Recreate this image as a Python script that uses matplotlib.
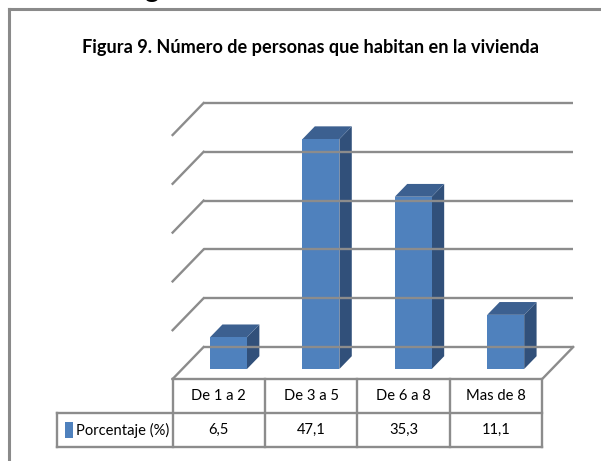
import matplotlib.pyplot as plt
from matplotlib.patches import Polygon
from matplotlib import font_manager as fm

categories = ['De 1 a 2', 'De 3 a 5', 'De 6 a 8', 'Mas de 8']
values = [6.5, 47.1, 35.3, 11.1]
value_labels = ['6,5', '47,1', '35,3', '11,1']
series_name = 'Porcentaje (%)'
grid_values = [0, 10, 20, 30, 40, 50]
title = 'Figura 9. Número de personas que habitan en la vivienda'

# layout (pixels of the 601x461 picture)
W, H = 601, 461
px_cat = 92.4      # pixels between categories
px_val = 4.88      # pixels per percent
x0_px = 228.5      # centre of first bar
y0_px = 369.0      # base of bars (from top)
depth_dx, depth_dy = 31.0, 32.0
d_bar, bar_depth, bar_w = 0.3125, 0.40, 0.40

front_c = '#4F81BD'
top_c = '#3C6090'
side_c = '#31507A'
line_c = '#8C8C8C'

# narrow font, closest to Calibri
names = {f.name for f in fm.fontManager.ttflist}
family = 'DejaVu Sans'
for cand in ['Liberation Sans Narrow', 'DejaVu Sans Condensed', 'Lato', 'Roboto', 'Open Sans']:
    if cand in names:
        family = cand
        break
plt.rcParams['font.family'] = [family, 'DejaVu Sans']

fig = plt.figure(figsize=(W / 100, H / 100), dpi=100)
ax = fig.add_axes([0, 0, 1, 1])
ax.set_xlim(-x0_px / px_cat, (W - x0_px) / px_cat)
ax.set_ylim(-(H - y0_px) / px_val, y0_px / px_val)
ax.axis('off')
renderer = fig.canvas.get_renderer()


def fit(t, width_px):
    w = t.get_window_extent(renderer).width
    t.set_fontsize(t.get_fontsize() * width_px / w)


def proj(x, v, d):
    return (x + (d - d_bar) * depth_dx / px_cat,
            v + (d - d_bar) * depth_dy / px_val)


def py(p):
    # pixel row -> data y
    return (y0_px - p) / px_val


n = len(categories)
left, right = -0.5, n - 0.5

# back wall grid lines and side wall diagonals
for g in grid_values:
    xs, ys = zip(proj(left, g, 1), proj(right, g, 1))
    ax.plot(xs, ys, color=line_c, lw=1.7, solid_capstyle='butt')
    xs, ys = zip(proj(left, g, 0), proj(left, g, 1))
    ax.plot(xs, ys, color=line_c, lw=1.7)
# floor
xs, ys = zip(proj(left, 0, 0), proj(right, 0, 0), proj(right, 0, 1))
ax.plot(xs, ys, color=line_c, lw=1.7)

# 3d bars
for i, v in enumerate(values):
    a, b = i - bar_w / 2, i + bar_w / 2
    d1, d2 = d_bar, d_bar + bar_depth
    side = [proj(b, 0, d1), proj(b, v, d1), proj(b, v, d2), proj(b, 0, d2)]
    top = [proj(a, v, d1), proj(b, v, d1), proj(b, v, d2), proj(a, v, d2)]
    front = [proj(a, 0, d1), proj(b, 0, d1), proj(b, v, d1), proj(a, v, d1)]
    ax.add_patch(Polygon(side, closed=True, fc=side_c, ec='none'))
    ax.add_patch(Polygon(top, closed=True, fc=top_c, ec='none'))
    ax.add_patch(Polygon(front, closed=True, fc=front_c, ec='none'))

# data table
y_top, y_mid, y_bot = proj(0, 0, 0)[1], py(413), py(447)
col_x = [proj(left + k, 0, 0)[0] for k in range(n + 1)]
lab_x = (57 - x0_px) / px_cat
tk = dict(color=line_c, lw=1.7)
ax.plot([lab_x, col_x[-1]], [y_mid, y_mid], **tk)
ax.plot([lab_x, col_x[-1]], [y_bot, y_bot], **tk)
ax.plot([lab_x, lab_x], [y_mid, y_bot], **tk)
for k, cx in enumerate(col_x):
    ax.plot([cx, cx], [y_top, y_bot], **tk)

ym = (y_mid + y_bot) / 2
leg = ax.text((76 - x0_px) / px_cat, ym, series_name, ha='left', va='center', fontsize=10)
fit(leg, 93)
fs = leg.get_fontsize()
for k in range(n):
    cx = (col_x[k] + col_x[k + 1]) / 2
    ax.text(cx, (y_top + y_mid) / 2, categories[k], ha='center', va='center', fontsize=fs)
    ax.text(cx, ym, value_labels[k], ha='center', va='center', fontsize=fs)

ax.add_patch(Polygon([((65 - x0_px) / px_cat, ym - 1.7), ((73 - x0_px) / px_cat, ym - 1.7),
                      ((73 - x0_px) / px_cat, ym + 1.7), ((65 - x0_px) / px_cat, ym + 1.7)],
                     closed=True, fc=front_c, ec='none'))

# title
tt = fig.text(310 / W, 1 - 47 / H, title, ha='center', va='center', fontsize=13, fontweight='bold')
fit(tt, 455)

# frame of the cropped chart area and cut-off heading above it
fig.add_artist(plt.Line2D([9 / W, 9 / W], [0, 1 - 9 / H], color='#8A8A8A', lw=2.2))
fig.add_artist(plt.Line2D([9 / W, 1], [1 - 9.5 / H, 1 - 9.5 / H], color='#8A8A8A', lw=2.2))
fig.text(152 / W, 1 + 3 / H, 'g', ha='center', va='baseline', fontsize=20, fontweight='bold')

fig.savefig('out.png', dpi=100)
